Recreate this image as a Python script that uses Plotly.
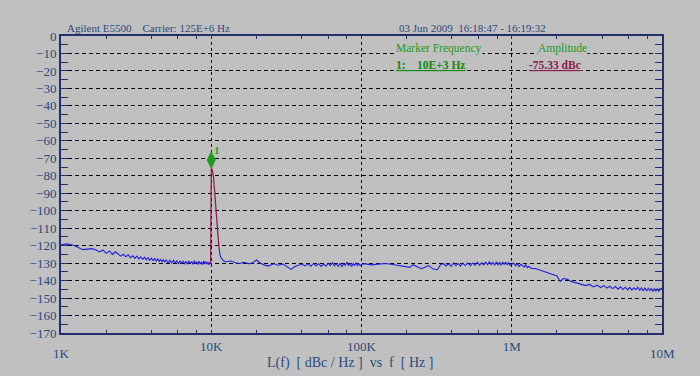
import plotly.graph_objects as go

# ---------------- data ----------------
noise_freq = [
    1000, 1050, 1100, 1150, 1200, 1250, 1300, 1400, 1500, 1600, 1700, 1800, 1900, 2000,
    2100, 2200, 2300, 2400, 2500, 2600, 2700, 2800, 2900, 3000, 3100, 3200, 3300, 3400,
    3500, 3600, 3700, 3800, 3900, 4000, 4100, 4200, 4300, 4400, 4500, 4600, 4700, 4800,
    4900, 5000, 5150, 5300, 5450, 5600, 5750, 5900, 6050, 6200, 6350, 6500, 6650, 6800,
    6950, 7100, 7250, 7400, 7550, 7700, 7850, 8000, 8150, 8300, 8450, 8600, 8750, 8900,
    9050, 9200, 9350, 9500, 9650, 9800, 9900,
    None,
    11250, 11500, 12000, 12500, 13500, 14500, 15500, 16500, 18000, 19000, 20000, 21000,
    22500, 24000, 26000, 28000, 30000, 32000, 34000, 36000, 38000, 40000, 42000, 44000,
    46000, 48000, 50000, 52000, 54000, 56000, 58000, 60000, 62000, 64000, 66000, 68000,
    70000, 72000, 74000, 76000, 78000, 80000, 82000, 84000, 86000, 88000, 90000, 92000,
    94000, 96000, 98000, 100000,
    105000, 115000, 130000, 145000, 165000, 185000, 200000, 210000, 220000, 235000,
    250000, 265000, 280000, 300000, 320000, 335000, 350000, 365000, 380000, 395000,
    410000, 425000, 440000, 455000, 470000, 490000, 510000, 530000, 550000, 570000,
    590000, 610000, 630000, 650000, 670000, 690000, 710000, 730000, 750000, 770000,
    790000, 810000, 830000, 850000, 870000, 890000, 910000, 930000, 950000, 975000,
    1000000,
    1030000, 1060000, 1090000, 1120000, 1150000, 1180000, 1210000, 1240000, 1270000,
    1300000, 1350000, 1450000, 1600000, 1750000, 1900000, 2000000, 2100000, 2200000,
    2350000, 2500000, 2700000, 2900000, 3100000, 3300000, 3500000, 3700000, 3900000,
    4100000, 4300000, 4500000, 4700000, 4900000, 5100000, 5300000, 5500000, 5700000,
    5900000, 6100000, 6300000, 6500000, 6700000, 6900000, 7100000, 7300000, 7500000,
    7700000, 7900000, 8100000, 8300000, 8500000, 8700000, 8900000, 9100000, 9300000,
    9500000, 9700000, 9850000, 10000000,
]
noise_dbc = [
    -119.5, -119.2, -119.0, -119.3, -119.6, -120.4, -121.2, -122.3, -122.0, -121.7, -122.4,
    -123.6, -122.5, -124.4, -123.0, -125.0, -123.5, -124.8, -126.0, -124.9, -126.4, -125.2,
    -126.9, -125.8, -127.3, -126.0, -127.6, -126.4, -127.9, -126.6, -128.1, -126.9, -128.4,
    -127.2, -128.6, -127.4, -128.9, -127.5, -129.0, -127.9, -129.2, -128.0, -129.5, -128.2,
    -129.8, -128.4, -130.0, -128.5, -129.9, -128.7, -130.3, -128.8, -130.1, -128.9, -130.4,
    -129.0, -130.6, -128.8, -130.2, -129.1, -130.7, -128.6, -130.3, -129.2, -130.8, -128.9,
    -130.5, -129.3, -130.9, -128.8, -130.4, -129.0, -130.7, -129.3, -131.0, -129.5,
    -130.5,
    None,
    -121.0, -126.3, -128.5, -129.2, -128.8, -129.8, -130.2, -129.5, -130.4, -129.6, -128.2,
    -129.8, -131.0, -131.7, -130.4, -131.2, -130.5, -132.3, -133.6, -132.0, -131.0, -130.5,
    -131.6, -130.4, -131.8, -130.2, -131.5, -130.3, -131.9, -130.6, -131.7, -130.0, -131.4,
    -129.8, -131.6, -130.3, -131.8, -130.1, -132.0, -130.4, -131.3, -129.4, -131.5, -130.0,
    -131.9, -130.2, -131.3, -129.7, -131.6, -130.3, -131.4, -130.8,
    -130.3, -131.0, -130.6, -130.2, -130.9, -131.6, -131.8, -132.4, -130.9, -132.0,
    -133.2, -132.3, -131.4, -133.4, -133.8, -131.0, -130.2, -131.6, -130.4, -131.8,
    -129.9, -131.5, -130.2, -131.7, -130.0, -131.4, -129.8, -131.6, -129.9, -131.2,
    -129.5, -131.3, -129.8, -131.0, -129.4, -130.9, -129.2, -130.8, -129.6, -131.1,
    -129.3, -130.9, -129.7, -131.2, -129.4, -130.8, -129.5, -131.0, -129.7, -131.3,
    -130.9,
    -130.0, -131.6, -130.3, -132.0, -130.7, -131.4, -132.3, -130.9, -132.6,
    -131.8, -133.0, -133.2, -134.5, -135.8, -136.6, -137.4, -140.5, -138.8,
    -139.3, -140.6, -141.3, -142.0, -142.9, -142.2, -143.6, -142.6, -144.0,
    -142.9, -144.3, -143.2, -144.6, -143.4, -144.9, -143.6, -145.1, -143.8,
    -145.3, -143.9, -145.5, -144.1, -145.2, -143.8, -145.6, -144.2, -145.8,
    -144.3, -146.0, -144.4, -145.7, -144.6, -146.3, -144.5, -145.9, -144.7,
    -146.2, -144.6, -145.0, -144.3,
]
spur_freq = [9900, 10000, 10150, 10350, 11250]
spur_dbc = [-130.5, -76.0, -76.5, -80.5, -121.0]

marker_freq = [10000]
marker_dbc = [-71]

y_tickvals = list(range(0, -171, -10))
x_tickvals = [1000, 10000, 100000, 1000000, 10000000]
x_ticktext = ["", "10K", "100K", "1M", ""]
x_minor_vals = [m * d for d in (1000, 10000, 100000, 1000000) for m in (2, 4, 6, 8)]

# ---------------- style ----------------
BG = "#C0C0C0"
NAVY = "#22306E"
TXT = "#2A4A7E"
FONT = "Liberation Serif"
GREEN = "#1E9A1E"
MAROON = "#8A1A4C"

fig = go.Figure()
fig.add_trace(go.Scatter(x=noise_freq, y=noise_dbc, mode="lines",
                         line=dict(color="#2020E0", width=1.1), connectgaps=False,
                         hoverinfo="skip", showlegend=False))
fig.add_trace(go.Scatter(x=spur_freq, y=spur_dbc, mode="lines",
                         line=dict(color=MAROON, width=1.2),
                         hoverinfo="skip", showlegend=False))
fig.add_trace(go.Scatter(x=marker_freq, y=marker_dbc, mode="markers",
                         marker=dict(symbol="diamond-tall", size=13, color=GREEN),
                         hoverinfo="skip", showlegend=False))

fig.update_layout(
    width=700, height=376,
    margin=dict(l=61, r=38, t=36, b=43),
    paper_bgcolor=BG, plot_bgcolor=BG,
    font=dict(family=FONT, size=13, color=TXT),
    showlegend=False,
)
fig.update_xaxes(
    type="log", range=[3, 7], automargin=False,
    tickmode="array", tickvals=x_tickvals, ticktext=x_ticktext,
    ticks="inside", ticklen=3, tickcolor=NAVY,
    showline=True, linecolor=NAVY, linewidth=2, mirror="ticks",
    showgrid=True, gridcolor="black", gridwidth=1, griddash="3px,3px",
    minor=dict(tickmode="array", tickvals=x_minor_vals, ticks="inside",
               ticklen=3, tickcolor=NAVY, showgrid=False),
    zeroline=False, tickfont=dict(family=FONT, size=13, color=TXT),
)
fig.update_yaxes(
    range=[-170, 0], automargin=False, tickmode="array", tickvals=y_tickvals,
    ticks="inside", ticklen=7, tickcolor=NAVY,
    showline=True, linecolor=NAVY, linewidth=2, mirror="ticks",
    showgrid=True, gridcolor="black", gridwidth=1, griddash="4px,3px",
    minor=dict(dtick=5, ticks="inside", ticklen=7, tickcolor=NAVY, showgrid=False),
    zeroline=False, ticklabelstandoff=0,
    tickfont=dict(family=FONT, size=13, color=TXT),
)

ann = [
    dict(x=0, y=1, xref="paper", yref="paper", xanchor="left", yanchor="bottom",
         xshift=4, text="Agilent E5500    Carrier: 125E+6 Hz",
         font=dict(family=FONT, size=11, color=TXT)),
    dict(x=0.559, y=1, xref="paper", yref="paper", xanchor="left", yanchor="bottom",
         text="03 Jun 2009  16:18:47 - 16:19:32",
         font=dict(family=FONT, size=11, color=TXT)),
    dict(x=0.555, y=0.957, xref="paper", yref="paper", xanchor="left", yanchor="middle",
         text="Marker Frequency", bgcolor=BG, borderpad=0,
         font=dict(family=FONT, size=11.5, color=GREEN)),
    dict(x=0.555, y=0.902, xref="paper", yref="paper", xanchor="left", yanchor="middle",
         text="<b><u>1:    10E+3 Hz</u></b>", bgcolor=BG, borderpad=0,
         font=dict(family=FONT, size=11.5, color="#108A10")),
    dict(x=0.792, y=0.957, xref="paper", yref="paper", xanchor="left", yanchor="middle",
         text="Amplitude", bgcolor=BG, borderpad=0,
         font=dict(family=FONT, size=11.5, color=GREEN)),
    dict(x=0.777, y=0.902, xref="paper", yref="paper", xanchor="left", yanchor="middle",
         text="<b><u>-75.33 dBc</u></b>", bgcolor=BG, borderpad=0,
         font=dict(family=FONT, size=11.5, color=MAROON)),
    dict(x=4, y=marker_dbc[0], xref="x", yref="y", xanchor="left", yanchor="bottom",
         xshift=1, yshift=2, text="<b>1</b>",
         font=dict(family=FONT, size=11, color=GREEN)),
    dict(x=3, y=0, xref="x", yref="paper", yanchor="top", yshift=-11,
         text="1K", font=dict(family=FONT, size=13, color=TXT)),
    dict(x=7, y=0, xref="x", yref="paper", yanchor="top", yshift=-11,
         text="10M", font=dict(family=FONT, size=13, color=TXT)),
    dict(x=0.481, y=0, xref="paper", yref="paper", yanchor="top", yshift=-20,
         text="L(f)  [ dBc / Hz ]  vs  f  [ Hz ]",
         font=dict(family=FONT, size=14, color=TXT)),
]
for a in ann:
    a.setdefault("showarrow", False)
fig.update_layout(annotations=ann)

fig.write_html("out.html",
               config={"displayModeBar": False},
               post_script="document.body.style.margin='0';"
                           "document.body.style.overflow='hidden';"
                           "document.body.style.background='#C0C0C0';")
